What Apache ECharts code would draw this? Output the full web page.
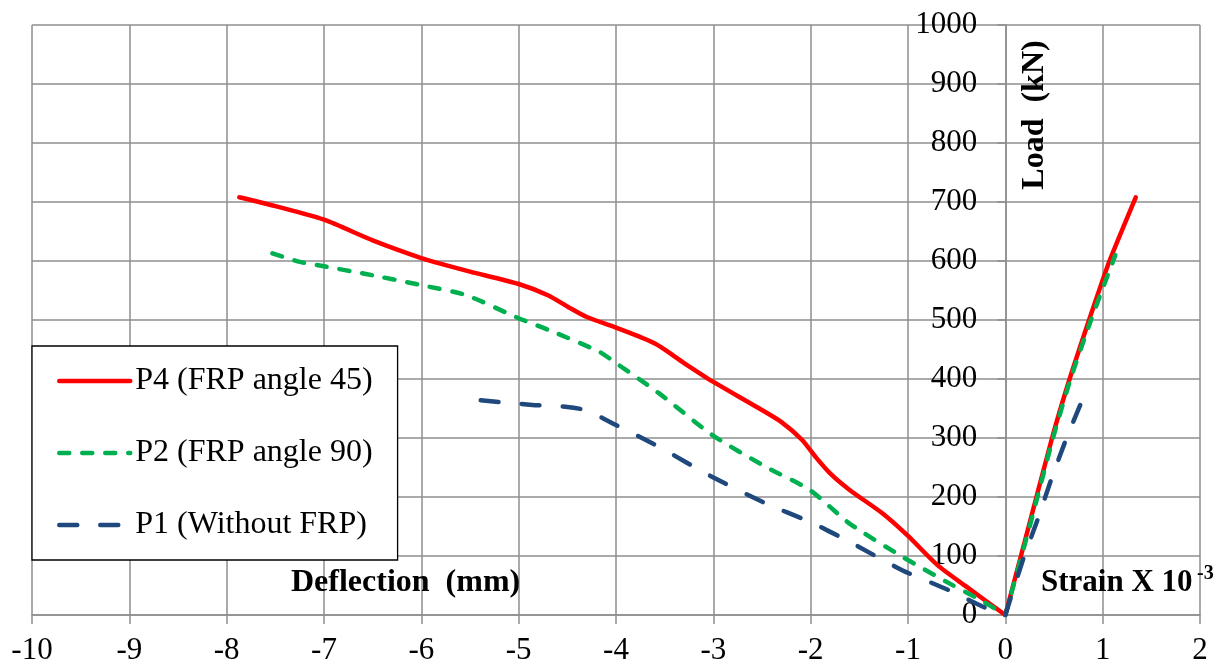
<!DOCTYPE html>
<html>
<head>
<meta charset="utf-8">
<script src="https://cdn.jsdelivr.net/npm/echarts@6/dist/echarts.min.js"></script>
<style>
  html, body { margin: 0; padding: 0; background: #fff; }
  #chart { width: 1226px; height: 668px; }
</style>
</head>
<body>
<div id="chart"></div>
<script>
// Axis ranges (deflection is negative, strain positive, load on the vertical axis)
const xRange = [-10, 2];
const yRange = [0, 1000];

const seriesNames = ['P4 (FRP angle 45)', 'P2 (FRP angle 90)', 'P1 (Without FRP)'];

// P4 (FRP angle 45)
const p4DeflX = [-7.87, -7.5, -7.0, -6.5, -6.0, -5.75, -5.5, -5.0, -4.7, -4.5, -4.3, -4.0, -3.6, -3.3, -3.0, -2.56, -2.3, -2.09, -1.95, -1.8, -1.6, -1.26, -1.0, -0.7, -0.4, 0];
const p4DeflLoad = [708, 693, 670, 635, 605, 593, 582, 561, 542, 523, 505, 487, 460, 427, 395, 353, 327, 297, 268, 240, 212, 172, 134, 85, 48, 0];
const p4StrainX = [0, 0.24, 0.48, 0.66, 0.86, 1.07, 1.34];
const p4StrainLoad = [0, 150, 300, 400, 500, 600, 708];

// P2 (FRP angle 90)
const p2DeflX = [-7.53, -7.26, -7.0, -6.57, -6.0, -5.54, -5.0, -4.69, -4.17, -4.0, -3.56, -3.01, -2.46, -2.01, -1.6, -1.06, -0.58, -0.23, 0];
const p2DeflLoad = [613, 599, 591, 578, 559, 542, 503, 483, 446, 427, 376, 305, 251, 212, 155, 99, 54, 23, 0];
const p2StrainX = [0, 0.25, 0.49, 0.67, 0.88, 1.13];
const p2StrainLoad = [0, 150, 300, 400, 500, 610];

// P1 (Without FRP)
const p1DeflX = [-5.39, -4.86, -4.52, -4.31, -4.0, -3.56, -3.01, -2.46, -2.01, -1.6, -1.06, -0.58, -0.23, 0];
const p1DeflLoad = [364, 356, 353, 347, 322, 285, 234, 189, 158, 124, 76, 42, 14, 0];
const p1StrainX = [0, 0.18, 0.33, 0.47, 0.62, 0.79];
const p1StrainLoad = [0, 93, 161, 229, 296, 364];

const FONT = '"Liberation Serif", "Times New Roman", serif';
const GRID_COLOR = '#8e8e8e';

// Plot rectangle inside the canvas
const CHART_W = 1226;
const GRID = { left: 32, right: 26, top: 25, bottom: 53 };
const gridWidth = CHART_W - GRID.left - GRID.right;
// The load axis crosses the horizontal axis at zero
const yAxisOffset = -gridWidth * (0 - xRange[0]) / (xRange[1] - xRange[0]);

function pairs(xs, ys) {
  return xs.map((x, i) => [x, ys[i]]);
}

function lineSeries(name, data, color, dash, smooth) {
  return {
    type: 'line',
    name: name,
    data: data,
    symbol: 'none',
    smooth: smooth,
    lineStyle: { color: color, width: 4.5, type: dash, cap: 'round', join: 'round' },
    itemStyle: { color: color },
    z: 3
  };
}

const styles = [
  { color: '#ff0000', dash: 'solid' },
  { color: '#00b050', dash: [10, 13] },
  { color: '#1f497d', dash: [18, 23] }
];

const specimens = [
  { defl: pairs(p4DeflX, p4DeflLoad), strain: pairs(p4StrainX, p4StrainLoad) },
  { defl: pairs(p2DeflX, p2DeflLoad), strain: pairs(p2StrainX, p2StrainLoad) },
  { defl: pairs(p1DeflX, p1DeflLoad), strain: pairs(p1StrainX, p1StrainLoad) }
];

const series = [];
specimens.forEach((s, i) => {
  series.push(lineSeries(seriesNames[i], s.defl, styles[i].color, styles[i].dash, 0.25));
  series.push(lineSeries(seriesNames[i], s.strain, styles[i].color, styles[i].dash, 0.2));
});

const chart = echarts.init(document.getElementById('chart'), null, { renderer: 'canvas' });

chart.setOption({
  animation: false,
  backgroundColor: '#ffffff',
  grid: { left: GRID.left, right: GRID.right, top: GRID.top, bottom: GRID.bottom, containLabel: false },
  xAxis: {
    type: 'value',
    min: xRange[0],
    max: xRange[1],
    interval: 1,
    axisLine: { show: true, onZero: false, lineStyle: { color: GRID_COLOR, width: 1.5 } },
    axisTick: { show: true, inside: false, length: 9, lineStyle: { color: GRID_COLOR, width: 1.5 } },
    axisLabel: { color: '#000', fontFamily: FONT, fontSize: 31, margin: 20, formatter: v => String(v) },
    splitLine: { show: true, showMinLine: true, showMaxLine: true, lineStyle: { color: GRID_COLOR, width: 1.5 } }
  },
  yAxis: {
    type: 'value',
    min: yRange[0],
    max: yRange[1],
    interval: 100,
    position: 'left',
    offset: yAxisOffset,
    axisLine: { show: true, onZero: false, lineStyle: { color: GRID_COLOR, width: 1.5 } },
    axisTick: { show: true, inside: false, length: 8, lineStyle: { color: GRID_COLOR, width: 1.5 } },
    axisLabel: { color: '#000', fontFamily: FONT, fontSize: 31, margin: 28, formatter: v => String(v) },
    splitLine: { show: true, showMinLine: true, showMaxLine: true, lineStyle: { color: GRID_COLOR, width: 1.5 } }
  },
  legend: {
    data: seriesNames,
    orient: 'vertical',
    left: 32,
    top: 346,
    padding: [19, 25, 19, 25],
    itemGap: 40,
    itemWidth: 71,
    itemHeight: 14,
    backgroundColor: '#ffffff',
    borderColor: '#000000',
    borderWidth: 1.3,
    itemStyle: { opacity: 0 },
    lineStyle: { width: 4.5, cap: 'round' },
    textStyle: { color: '#000', fontFamily: FONT, fontSize: 32 }
  },
  graphic: [
    {
      type: 'text', left: 291, top: 567, z: 10,
      style: { text: 'Deflection  (mm)', fill: '#000', font: 'bold 32px ' + FONT }
    },
    {
      type: 'text', x: 1035, y: 115, rotation: Math.PI / 2, z: 10,
      style: { text: 'Load  (kN)', fill: '#000', font: 'bold 32px ' + FONT, align: 'center', verticalAlign: 'middle' }
    },
    {
      type: 'text', left: 1041, top: 567, z: 10,
      style: { text: 'Strain X 10', fill: '#000', font: 'bold 31px ' + FONT }
    },
    {
      type: 'text', left: 1197, top: 564, z: 10,
      style: { text: '-3', fill: '#000', font: 'bold 20px ' + FONT }
    }
  ],
  series: series
});
</script>
</body>
</html>
